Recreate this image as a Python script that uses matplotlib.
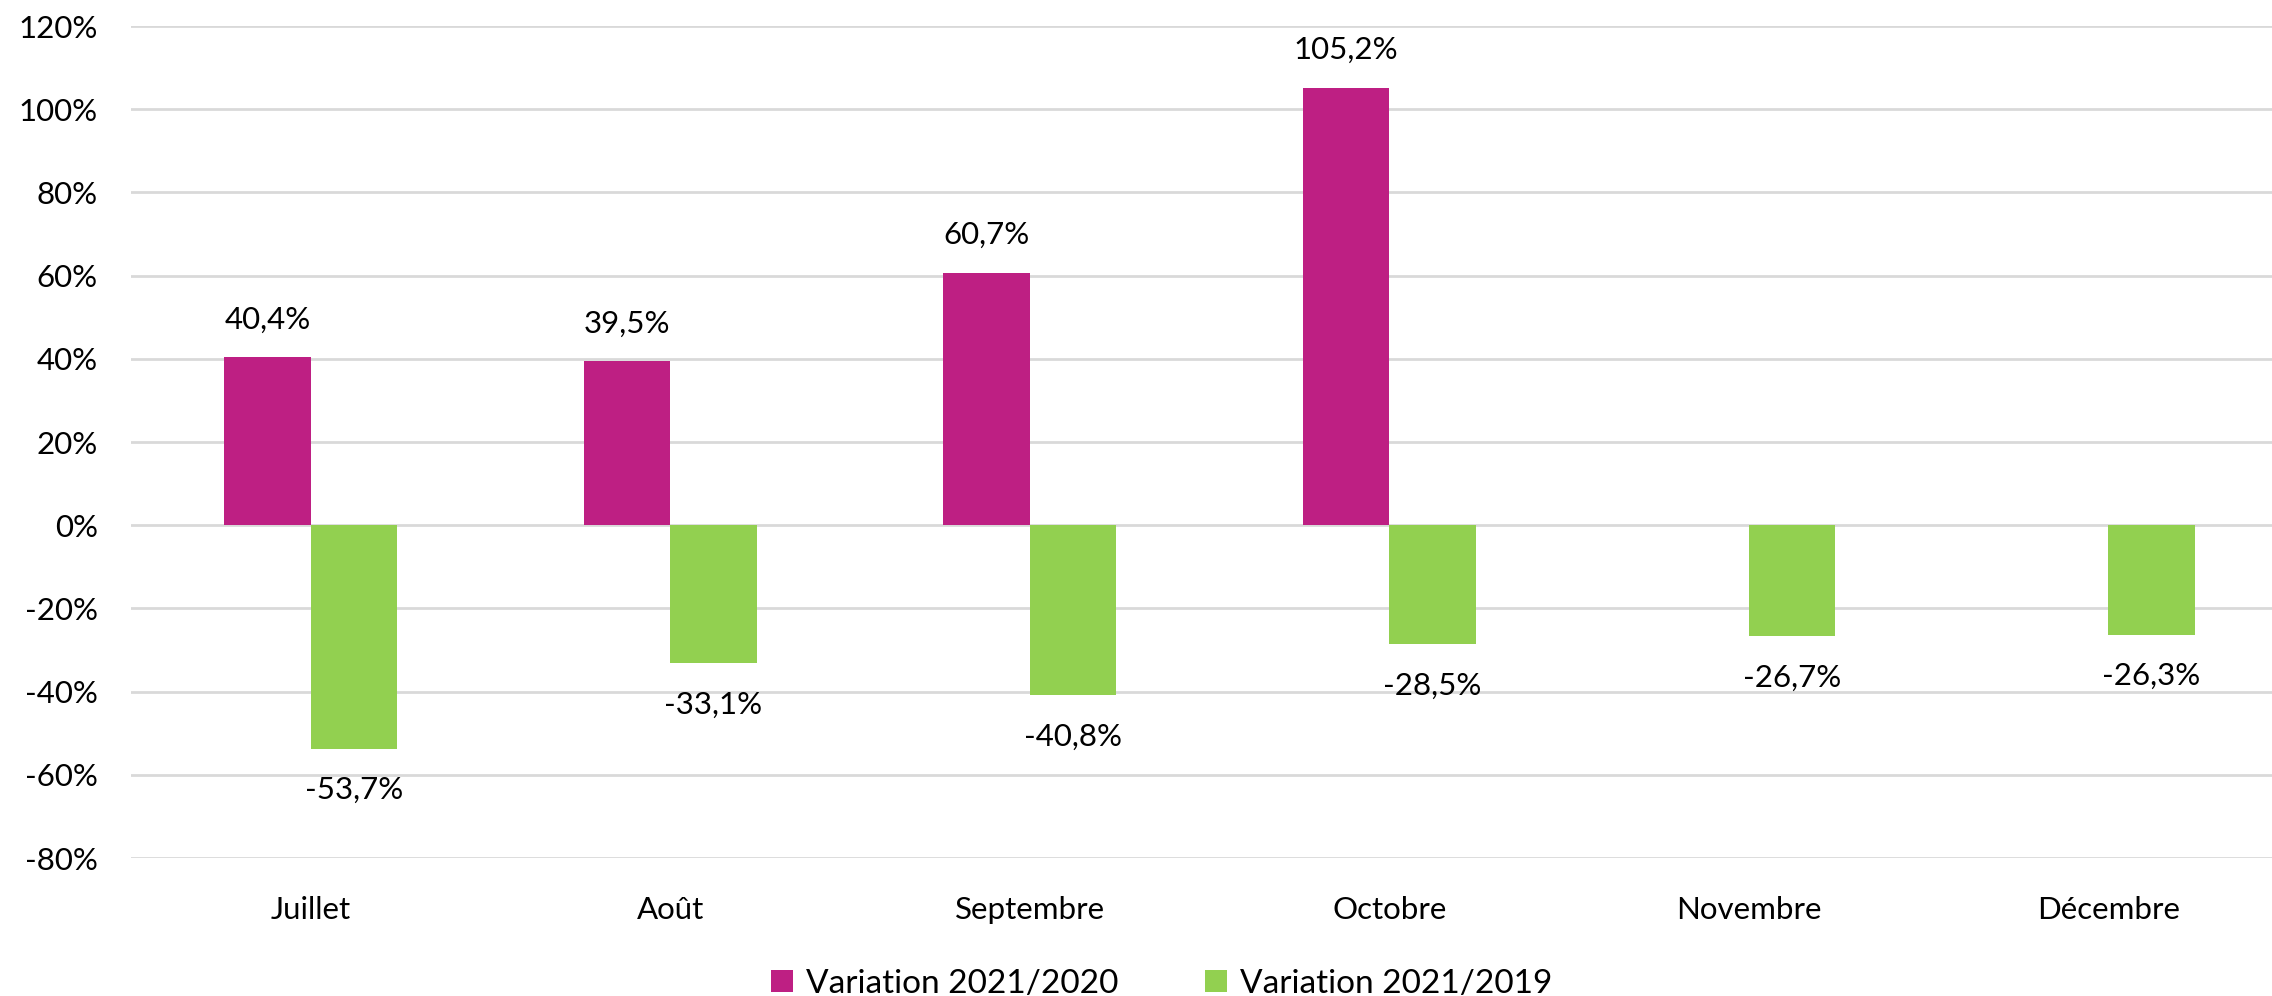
import numpy as np
import matplotlib
matplotlib.use("Agg")
import matplotlib.pyplot as plt
from matplotlib.ticker import FuncFormatter

categories = ["Juillet", "Août", "Septembre", "Octobre", "Novembre", "Décembre"]
var_2021_2020 = [40.4, 39.5, 60.7, 105.2, np.nan, np.nan]
var_2021_2019 = [-53.7, -33.1, -40.8, -28.5, -26.7, -26.3]
series_names = ["Variation 2021/2020", "Variation 2021/2019"]
yticks = list(range(-80, 121, 20))

plt.rcParams['font.family'] = ['Lato', 'DejaVu Sans']

W, H = 2272, 996
fig = plt.figure(figsize=(W / 100, H / 100), dpi=100)
left_px, right_px, top_px, bot_px = 131, 2288, 26, 858
ax = fig.add_axes([left_px / W, 1 - bot_px / H, (right_px - left_px) / W, (bot_px - top_px) / H])

x = np.arange(len(categories))
bw = 0.24
c1, c2 = "#BE1F83", "#92D050"
ax.bar(x - bw / 2, var_2021_2020, width=bw, color=c1, label=series_names[0], zorder=3)
ax.bar(x + bw / 2, var_2021_2019, width=bw, color=c2, label=series_names[1], zorder=3)

def fmt(v):
    return f"{v:.1f}".replace(".", ",") + "%"

fs = 22.5
for xi, v in zip(x, var_2021_2020):
    if not np.isnan(v):
        ax.annotate(fmt(v), (xi - bw / 2, v), xytext=(0, 27), textcoords="offset points",
                    ha="center", va="center", fontsize=fs, color="black")
for xi, v in zip(x, var_2021_2019):
    if not np.isnan(v):
        ax.annotate(fmt(v), (xi + bw / 2, v), xytext=(0, -30), textcoords="offset points",
                    ha="center", va="center", fontsize=fs, color="black")

ax.set_xlim(-0.5, len(categories) - 0.5)
ax.set_ylim(-80, 120)
ax.set_yticks(yticks)
ax.yaxis.set_major_formatter(FuncFormatter(lambda v, p: f"{int(v)}%"))
ax.set_xticks(x)
ax.set_xticklabels(categories)
ax.tick_params(axis="both", length=0, labelsize=fs, colors="black")
ax.tick_params(axis="y", pad=24)
ax.tick_params(axis="x", pad=27)
ax.grid(axis="y", color="#D9D9D9", linewidth=2, zorder=0)
for s in ax.spines.values():
    s.set_visible(False)

fig.legend(loc="center", bbox_to_anchor=(1162 / W, 1 - 984 / H), ncol=2, frameon=False,
           fontsize=24, handlelength=0.65, handleheight=0.65, handletextpad=0.4, columnspacing=2.6)

fig.savefig("out.png", dpi=100, facecolor="white")
